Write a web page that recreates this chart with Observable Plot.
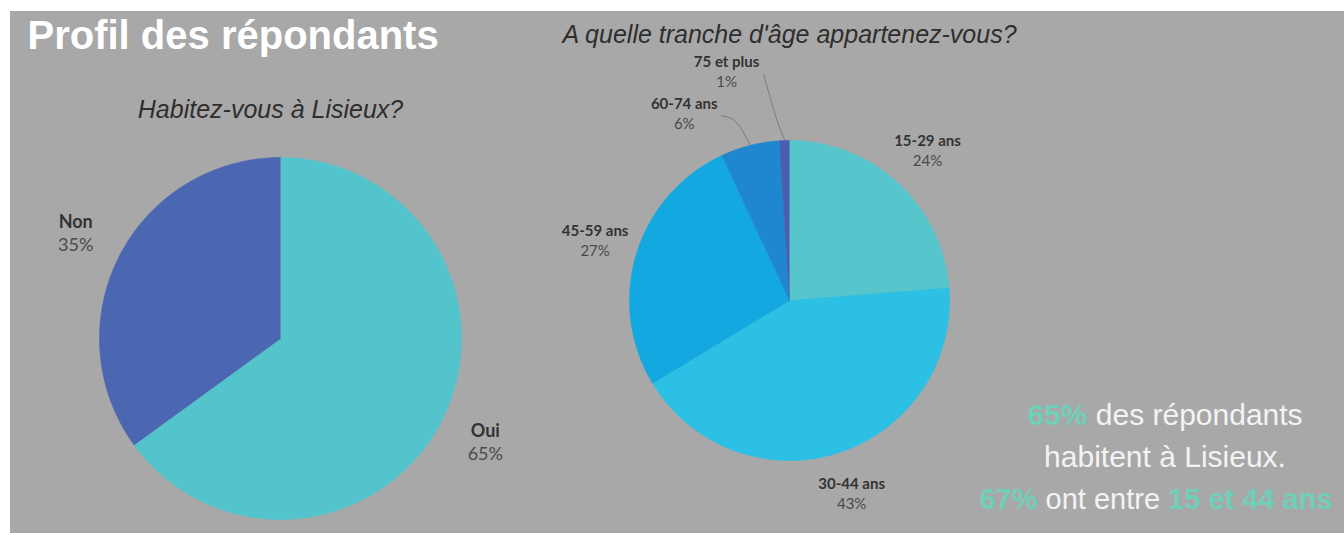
<!DOCTYPE html>
<html><head><meta charset="utf-8">
<script src="https://cdn.jsdelivr.net/npm/d3@7"></script>
<script src="https://cdn.jsdelivr.net/npm/@observablehq/plot@0.6"></script>
<style>
body{margin:0;background:#fff;}
#wrap{position:relative;width:1344px;height:535px;overflow:hidden;background:#fff;font-family:"Liberation Sans",Arial,sans-serif;}
#panel{position:absolute;left:10px;top:11px;right:0;bottom:2px;background:#a9a8a8;}
#chart{position:absolute;left:0;top:0;}
#note{position:absolute;left:765px;width:800px;top:394px;text-align:center;white-space:nowrap;font-size:30px;line-height:42px;color:#f3f3f3;}
#note b{color:#6fcfb8;}
#note .l3{font-size:29px;transform:translateX(-9px);}
</style>
</head><body>
<div id="wrap"><div id="panel"></div><div id="chart"></div>
<div id="note">
<div><b>65%</b> des répondants</div>
<div>habitent à Lisieux.</div>
<div class="l3"><b>67%</b> ont entre <b>15 et 44 ans</b></div>
</div>
</div>
<script>
// ---- data ----
const title = "Profil des répondants";
const q1 = "Habitez-vous à Lisieux?";
const q1Cats = ["Oui", "Non"];
const q1Vals = [65, 35];
const q2 = "A quelle tranche d'âge appartenez-vous?";
const q2Cats = ["15-29 ans", "30-44 ans", "45-59 ans", "60-74 ans", "75 et plus"];
const q2Vals = [24, 43, 27, 6, 1];
const q1Colors = ["#54c4cc", "#4c67b1"];
const q2Colors = ["#56c5cc", "#2cc0e5", "#14a8e0", "#1f87cf", "#4a5db0"];

// ---- layout ----
const W = 1344, H = 535;
const pie1 = {cx: 280, cy: 338, r: 181, fs: 18, gap: 23};
const pie2 = {cx: 789, cy: 300, r: 160, fs: 15, gap: 20};
const labelOverride = {"60-74 ans": {deg: 330.6, k: 1.34}, "75 et plus": {deg: 344.6, k: 1.48}};

function arcs(cats, vals) {
  const tot = d3.sum(vals);
  let a0 = 0;
  return cats.map((c, i) => {
    const a1 = a0 + vals[i] / tot * 2 * Math.PI;
    const o = {cat: c, val: vals[i], a0, a1, mid: (a0 + a1) / 2};
    a0 = a1;
    return o;
  });
}
function wedgePts(list, p) {
  const pts = [];
  for (const s of list) {
    const n = Math.max(2, Math.ceil((s.a1 - s.a0) / (Math.PI / 360)));
    pts.push({cat: s.cat, x: p.cx, y: p.cy});
    for (let k = 0; k <= n; k++) {
      const a = s.a0 + (s.a1 - s.a0) * k / n;
      pts.push({cat: s.cat, x: p.cx + p.r * Math.sin(a), y: p.cy - p.r * Math.cos(a)});
    }
  }
  return pts;
}
function labelPts(list, p) {
  return list.map(s => {
    const ov = labelOverride[s.cat];
    const a = ov ? ov.deg * Math.PI / 180 : s.mid;
    const k = ov ? ov.k : 1.27;
    return {cat: s.cat, pct: s.val + "%", x: p.cx + k * p.r * Math.sin(a), y: p.cy - k * p.r * Math.cos(a), mid: s.mid, over: !!ov};
  });
}
const a1 = arcs(q1Cats, q1Vals);
const a2 = arcs(q2Cats, q2Vals);
const w1 = wedgePts(a1, pie1), w2 = wedgePts(a2, pie2);
const l1 = labelPts(a1, pie1), l2 = labelPts(a2, pie2);
// leader lines for small slices
const leaders = [];
for (const l of l2.filter(d => d.over)) {
  const p = pie2;
  leaders.push({cat: l.cat, x: l.x + 37, y: l.y + 2});
  leaders.push({cat: l.cat, x: p.cx + (p.r + 24) * Math.sin(l.mid) - 8, y: p.cy - (p.r + 24) * Math.cos(l.mid)});
  leaders.push({cat: l.cat, x: p.cx + (p.r + 1) * Math.sin(l.mid), y: p.cy - (p.r + 1) * Math.cos(l.mid)});
}

const chart = Plot.plot({
  width: W, height: H, margin: 0,
  x: {domain: [0, W], range: [0, W], axis: null},
  y: {domain: [0, H], range: [0, H], axis: null},
  color: {type: "ordinal", domain: [...q1Cats, ...q2Cats], range: [...q1Colors, ...q2Colors]},
  style: {background: "transparent", overflow: "visible"},
  marks: [
    Plot.line(w1, {x: "x", y: "y", z: "cat", fill: "cat", stroke: "cat", strokeWidth: 0.6}),
    Plot.line(w2, {x: "x", y: "y", z: "cat", fill: "cat", stroke: "cat", strokeWidth: 0.6}),
    Plot.line(leaders, {x: "x", y: "y", z: "cat", stroke: "#7b7b7b", strokeWidth: 1, curve: "natural"}),
    Plot.text([title], {x: () => 27, y: () => 48, text: d => d, textAnchor: "start", lineAnchor: "bottom", fontSize: 40, fontWeight: "bold", fill: "#ffffff", fontFamily: "Liberation Sans, Arial, sans-serif"}),
    Plot.text([q1], {x: () => pie1.cx - 10, y: () => 117, text: d => d, lineAnchor: "bottom", fontSize: 25, fontStyle: "italic", fill: "#2e2e2e", fontFamily: "Liberation Sans, Arial, sans-serif"}),
    Plot.text([q2], {x: () => pie2.cx, y: () => 42, text: d => d, lineAnchor: "bottom", fontSize: 25, fontStyle: "italic", fill: "#2e2e2e", fontFamily: "Liberation Sans, Arial, sans-serif"}),
    Plot.text(l1, {x: "x", y: "y", text: "cat", dy: -pie1.gap / 2, fontSize: pie1.fs, fontWeight: "bold", fill: "#333", fontFamily: "Lato, sans-serif"}),
    Plot.text(l1, {x: "x", y: "y", text: "pct", dy: pie1.gap / 2, fontSize: pie1.fs, fill: "#4a4a4a", fontFamily: "Lato, sans-serif"}),
    Plot.text(l2, {x: "x", y: "y", text: "cat", dy: -pie2.gap / 2, fontSize: pie2.fs, fontWeight: "bold", fill: "#333", fontFamily: "Lato, sans-serif"}),
    Plot.text(l2, {x: "x", y: "y", text: "pct", dy: pie2.gap / 2, fontSize: pie2.fs, fill: "#4a4a4a", fontFamily: "Lato, sans-serif"})
  ]
});
document.getElementById("chart").appendChild(chart);
</script>
</body></html>
